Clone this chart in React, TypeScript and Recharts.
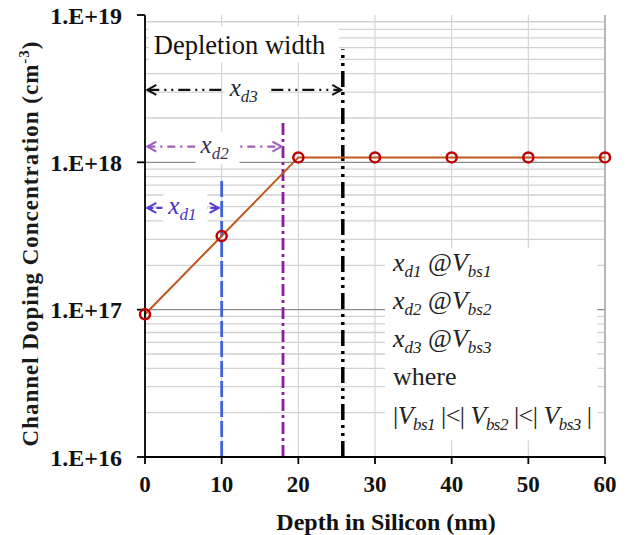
import React from "react";
import {
  ComposedChart,
  Line,
  XAxis,
  YAxis,
  CartesianGrid,
  ReferenceLine,
  ReferenceArea,
  ReferenceDot,
} from "recharts";

const SERIF = '"Liberation Serif", "Times New Roman", serif';

// profile
const DEPTH = [0, 10, 20, 30, 40, 50, 60];
const DOPING = [9.3e16, 3.16e17, 1.08e18, 1.08e18, 1.08e18, 1.08e18, 1.08e18];

const X_TICKS = [0, 10, 20, 30, 40, 50, 60];
const Y_TICKS = [1e16, 1e17, 1e18, 1e19];
const MAJOR_GRID = [1e17, 1e18];
const DECADES = [1e16, 1e17, 1e18];
const MINOR_MULT = [2, 3, 4, 5, 6, 7, 8, 9];

// depletion edges (xd1, xd2, xd3)
const XD_NAMES = ["d1", "d2", "d3"];
const XD_EDGE = [10, 18, 25.8];
const XD_TOP = [7.9e17, 1.87e18, 5.85e18];
const XD_ARROW_Y = [4.9e17, 1.28e18, 3.1e18];
const XD_ARROW_END = [9.6, 17.8, 25.6];
const XD_LABEL_X = [5, 9.2, 13];
const XD_COLORS = ["#3f63d8", "#8b1e9e", "#000000"];
const XD_ARROW_COLORS = ["#5a3ad6", "#a25bb8", "#111111"];
const XD_TEXT_COLORS = ["#4a2fc8", "#3b2f55", "#1d2a3c"];
const XD_LINE_DASH = ["16 4", "12 4 3 4", "16 5 3 5 3 5"];
const XD_ARROW_DASH = ["6 3", "8 5 2 5", "12 5 2 5 2 5"];

const data = DEPTH.map((d, i) => ({ depth: d, doping: DOPING[i] }));
const minorGrid = DECADES.flatMap((d) => MINOR_MULT.map((m) => m * d));

const fmt = (v: number) => "1.E+" + Math.round(Math.log10(v));

const YLabel = (props: any) => {
  const vb = props.viewBox || { y: 15, height: 442 };
  const cx = 38;
  const cy = vb.y + vb.height / 2 + 8;
  return (
    <text
      x={cx}
      y={cy}
      transform={`rotate(-90 ${cx} ${cy})`}
      textAnchor="middle"
      fontFamily={SERIF}
      fontSize={23}
      fontWeight="bold"
      fill="#1a1a1a"
      textLength={405}
      lengthAdjust="spacing"
    >
      Channel Doping Concentration (cm
      <tspan dy={-9} fontSize={15}>-3</tspan>
      <tspan dy={9}>)</tspan>
    </text>
  );
};

const arrowHead = (dir: number, color: string) => (p: any) => (
  <path
    d={`M${p.cx - dir * 9},${p.cy - 5}L${p.cx},${p.cy}L${p.cx - dir * 9},${p.cy + 5}`}
    fill="none"
    stroke={color}
    strokeWidth={2}
  />
);

const xdTag = (i: number) => (p: any) => (
  <g>
    <rect x={p.cx - 20} y={p.cy - 15} width={44} height={32} fill="#fff" />
    <text
      x={p.cx - 15}
      y={p.cy + 6}
      fontFamily={SERIF}
      fontStyle="italic"
      fontSize={25}
      fill={XD_TEXT_COLORS[i]}
    >
      x<tspan dy={6} fontSize={17}>{XD_NAMES[i]}</tspan>
    </text>
  </g>
);

const Sub = ({ children }: any) => (
  <tspan dy={6} fontSize={17} fontStyle="italic">
    {children}
  </tspan>
);
const Up = ({ children, italic }: any) => (
  <tspan dy={-6} fontStyle={italic ? "italic" : "normal"}>
    {children}
  </tspan>
);

const NoteBox = (props: any) => {
  const vb = props.viewBox || { x: 385, y: 250 };
  const x = vb.x + 8;
  const y0 = vb.y;
  const common = { fontFamily: SERIF, fontSize: 26, fill: "#222" };
  return (
    <g>
      {XD_NAMES.map((n, i) => (
        <text key={n} x={x} y={y0 + 22 + i * 38} {...common}>
          <tspan fontStyle="italic">x</tspan>
          <Sub>{n}</Sub>
          <Up>{" @"}</Up>
          <tspan fontStyle="italic">V</tspan>
          <Sub>{"bs" + (i + 1)}</Sub>
        </text>
      ))}
      <text x={x} y={y0 + 136} {...common}>
        where
      </text>
      <text x={x} y={y0 + 175} {...common} textLength={199} lengthAdjust="spacing">
        |<tspan fontStyle="italic">V</tspan>
        <Sub>bs1</Sub>
        <Up>{" |<| "}</Up>
        <tspan fontStyle="italic">V</tspan>
        <Sub>bs2</Sub>
        <Up>{" |<| "}</Up>
        <tspan fontStyle="italic">V</tspan>
        <Sub>bs3</Sub>
        <Up>{" |"}</Up>
      </text>
    </g>
  );
};

const TitleBox = (p: any) => (
  <g>
    <rect x={p.cx - 92} y={p.cy - 19} width={190} height={36} fill="#fff" />
    <text x={p.cx - 87} y={p.cy + 8} fontFamily={SERIF} fontSize={26.5} fill="#111">
      Depletion width
    </text>
  </g>
);

export default function App() {
  return (
    <div style={{ position: "absolute", left: 0, top: 0 }}>
      <ComposedChart
        width={633}
        height={535}
        data={data}
        margin={{ top: 15, right: 28, bottom: 0, left: 0 }}
      >
        <CartesianGrid horizontal={false} stroke="#d6d6d6" strokeWidth={1.2} />
        {minorGrid.map((v) => (
          <ReferenceLine key={"g" + v} y={v} stroke="#d2d2d2" strokeWidth={1.3} zIndex={-50} />
        ))}
        {MAJOR_GRID.map((v) => (
          <ReferenceLine key={"M" + v} y={v} stroke="#8c8c8c" strokeWidth={1.3} zIndex={-40} />
        ))}
        <ReferenceLine x={60} stroke="#a8a8a8" strokeWidth={1.5} zIndex={-40} />

        <XAxis
          dataKey="depth"
          type="number"
          domain={[0, 60]}
          ticks={X_TICKS}
          height={78}
          tickSize={7}
          tickMargin={12}
          axisLine={{ stroke: "#000", strokeWidth: 1.8 }}
          tickLine={{ stroke: "#000", strokeWidth: 1.8 }}
          tick={{ fontFamily: SERIF, fontSize: 23, fontWeight: "bold", fill: "#111" }}
          label={{
            value: "Depth in Silicon (nm)",
            position: "insideBottom",
            offset: 5,
            dx: 11,
            fontFamily: SERIF,
            fontSize: 24,
            fontWeight: "bold",
            fill: "#111",
          }}
        />
        <YAxis
          type="number"
          scale="log"
          domain={[1e16, 1e19]}
          allowDataOverflow
          ticks={Y_TICKS}
          tickFormatter={fmt}
          width={145}
          tickSize={8}
          tickMargin={15}
          axisLine={{ stroke: "#000", strokeWidth: 1.8 }}
          tickLine={{ stroke: "#000", strokeWidth: 1.8 }}
          tick={{ fontFamily: SERIF, fontSize: 24, fontWeight: "bold", fill: "#111" }}
          label={<YLabel />}
        />

        {XD_EDGE.map((x, i) => (
          <ReferenceLine
            key={"e" + i}
            segment={[
              { x, y: 1e16 },
              { x, y: XD_TOP[i] },
            ]}
            stroke={XD_COLORS[i]}
            strokeWidth={i === 2 ? 3.5 : 2.8}
            strokeDasharray={XD_LINE_DASH[i]}
            zIndex={300}
          />
        ))}
        {XD_ARROW_Y.map((y, i) => (
          <ReferenceLine
            key={"a" + i}
            segment={[
              { x: 0.3, y },
              { x: XD_ARROW_END[i], y },
            ]}
            stroke={XD_ARROW_COLORS[i]}
            strokeWidth={2.2}
            strokeDasharray={XD_ARROW_DASH[i]}
            zIndex={300}
          />
        ))}
        {XD_ARROW_Y.map((y, i) => (
          <ReferenceDot key={"l" + i} x={0.3} y={y} r={1} shape={arrowHead(-1, XD_ARROW_COLORS[i])} zIndex={310} />
        ))}
        {XD_ARROW_Y.map((y, i) => (
          <ReferenceDot key={"r" + i} x={XD_ARROW_END[i]} y={y} r={1} shape={arrowHead(1, XD_ARROW_COLORS[i])} zIndex={310} />
        ))}
        {XD_ARROW_Y.map((y, i) => (
          <ReferenceDot key={"t" + i} x={XD_LABEL_X[i]} y={y} r={1} shape={xdTag(i)} zIndex={320} />
        ))}
        <ReferenceDot x={12.5} y={6.2e18} r={1} shape={TitleBox} zIndex={320} />

        <ReferenceArea
          x1={31.3}
          x2={59}
          y1={1.3e16}
          y2={2.6e17}
          fill="#fff"
          fillOpacity={1}
          stroke="none"
          zIndex={350}
          label={<NoteBox />}
        />

        <Line
          dataKey="doping"
          stroke="#c0561c"
          strokeWidth={2}
          isAnimationActive={false}
          dot={{ r: 5, stroke: "#c00000", strokeWidth: 2.5, fill: "#fff", fillOpacity: 0 }}
          activeDot={false}
        />
      </ComposedChart>
    </div>
  );
}
